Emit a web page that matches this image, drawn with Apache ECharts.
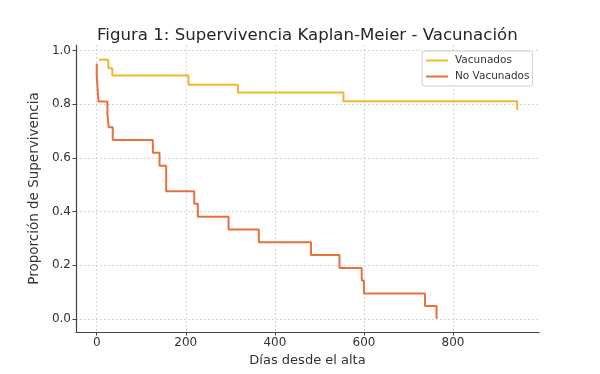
<!DOCTYPE html>
<html>
<head>
<meta charset="utf-8">
<script src="https://cdn.jsdelivr.net/npm/echarts@6/dist/echarts.min.js"></script>
<style>html,body{margin:0;padding:0;background:#fff;}#c{width:600px;height:374px;}</style>
</head>
<body>
<div id="c"></div>
<script>
const titleText = 'Figura 1: Supervivencia Kaplan-Meier - Vacunación';
const xAxisName = 'Días desde el alta';
const yAxisName = 'Proporción de Supervivencia';
const seriesNames = ['Vacunados', 'No Vacunados'];
const xTicks = [0, 200, 400, 600, 800];
const yTicks = [0.0, 0.2, 0.4, 0.6, 0.8, 1.0];

// Vacunados: event times (days) and survival after each event
const vacTimes = [5, 26, 35, 206, 317, 554, 944];
const vacSurv  = [0.966, 0.934, 0.907, 0.873, 0.844, 0.811, 0.779];

// No Vacunados
const noVacTimes = [0, 0, 2, 4, 24, 27, 36, 126, 141, 156, 219, 227, 296, 364, 481, 545, 595, 600, 737, 763];
const noVacSurv  = [0.952, 0.905, 0.857, 0.810, 0.762, 0.714, 0.667, 0.619, 0.571, 0.476, 0.429, 0.381, 0.333, 0.286, 0.238, 0.190, 0.143, 0.095, 0.048, 0.0];

const colors = ['#F2B52E', '#E8713B'];
const font = 'DejaVu Sans';

const pair = (t, s) => t.map((v, i) => [v, s[i]]);

const chart = echarts.init(document.getElementById('c'), null, {renderer: 'canvas'});
chart.setOption({
  animation: false,
  backgroundColor: '#fff',
  textStyle: {fontFamily: font},
  title: {
    text: titleText, left: 92, top: 22,
    textStyle: {fontFamily: font, fontSize: 16.6, fontWeight: 'normal', color: '#262626'}
  },
  legend: {
    orient: 'vertical', left: 422, top: 51,
    data: seriesNames.map(n => ({name: n, icon: 'rect'})),
    itemWidth: 22, itemHeight: 2, itemGap: 5,
    padding: [4, 3, 4, 4],
    backgroundColor: 'rgba(255,255,255,0.85)',
    borderColor: '#d0d0d0', borderWidth: 1, borderRadius: 3,
    textStyle: {fontFamily: font, fontSize: 10.5, color: '#333', padding: [0, 0, 0, 2]}
  },
  grid: {left: 76, right: 61, top: 45, bottom: 42, containLabel: false},
  xAxis: {
    type: 'value', min: -46.5, max: 993,
    name: xAxisName, nameLocation: 'middle', nameGap: 20,
    nameTextStyle: {fontFamily: font, fontSize: 13, color: '#333'},
    axisLine: {show: true, onZero: false, lineStyle: {color: '#444', width: 1.2}},
    axisTick: {show: true, length: 3.5, customValues: xTicks, lineStyle: {color: '#444'}},
    axisLabel: {customValues: xTicks, fontFamily: font, fontSize: 12, color: '#333', margin: 5},
    splitLine: {show: true, lineStyle: {color: '#cfcfcf', type: [2, 2], width: 0.8}}
  },
  yAxis: {
    type: 'value', min: -0.049, max: 1.021,
    name: yAxisName, nameLocation: 'middle', nameGap: 28,
    nameTextStyle: {fontFamily: font, fontSize: 13.5, color: '#333'},
    axisLine: {show: true, onZero: false, lineStyle: {color: '#444', width: 1.2}},
    axisTick: {show: true, length: 3.5, customValues: yTicks, lineStyle: {color: '#444'}},
    axisLabel: {customValues: yTicks, fontFamily: font, fontSize: 12, color: '#333', margin: 5,
      formatter: v => v.toFixed(1)},
    splitLine: {show: true, lineStyle: {color: '#cfcfcf', type: [2, 2], width: 0.8}}
  },
  series: [
    {name: seriesNames[0], type: 'line', step: 'end', data: pair(vacTimes, vacSurv),
     showSymbol: false, symbol: 'none', lineStyle: {color: colors[0], width: 2}, itemStyle: {color: colors[0]}, z: 3},
    {name: seriesNames[1], type: 'line', step: 'end', data: pair(noVacTimes, noVacSurv),
     showSymbol: false, symbol: 'none', lineStyle: {color: colors[1], width: 2}, itemStyle: {color: colors[1]}, z: 4}
  ]
});
</script>
</body>
</html>
